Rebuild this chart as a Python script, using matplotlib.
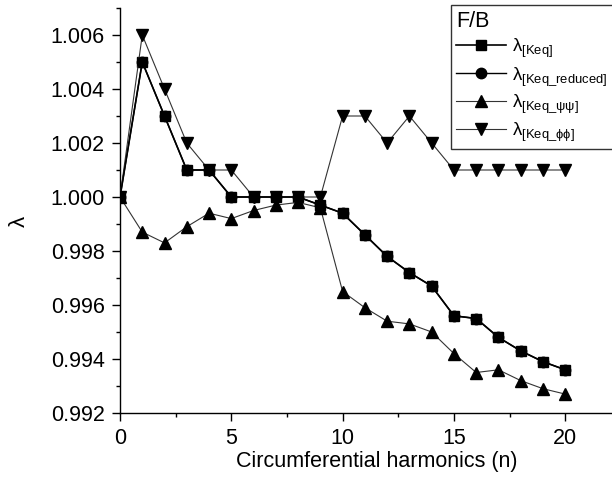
import matplotlib
matplotlib.use("Agg")
import matplotlib.pyplot as plt
from matplotlib.ticker import MultipleLocator, FormatStrFormatter

plt.rcParams['font.family'] = ['Liberation Sans', 'DejaVu Sans']
plt.rcParams['mathtext.fontset'] = 'custom'
plt.rcParams['mathtext.rm'] = 'Liberation Sans'
plt.rcParams['mathtext.it'] = 'Liberation Sans:italic'
plt.rcParams['mathtext.default'] = 'rm'

n = list(range(21))
keq = [1.000, 1.005, 1.003, 1.001, 1.001, 1.000, 1.000, 1.000, 1.000, 0.9997,
       0.9994, 0.9986, 0.9978, 0.9972, 0.9967, 0.9956, 0.9955, 0.9948, 0.9943, 0.9939, 0.9936]
keq_reduced = [1.000, 1.005, 1.003, 1.001, 1.001, 1.000, 1.000, 1.000, 1.000, 0.9997,
               0.9994, 0.9986, 0.9978, 0.9972, 0.9967, 0.9956, 0.9955, 0.9948, 0.9943, 0.9939, 0.9936]
keq_psipsi = [1.000, 0.9987, 0.9983, 0.9989, 0.9994, 0.9992, 0.9995, 0.9997, 0.9998, 0.9996,
              0.9965, 0.9959, 0.9954, 0.9953, 0.9950, 0.9942, 0.9935, 0.9936, 0.9932, 0.9929, 0.9927]
keq_phiphi = [1.000, 1.006, 1.004, 1.002, 1.001, 1.001, 1.000, 1.000, 1.000, 1.000,
              1.003, 1.003, 1.002, 1.003, 1.002, 1.001, 1.001, 1.001, 1.001, 1.001, 1.001]

labels = [r'$\lambda_{[\mathrm{Keq}]}$', r'$\lambda_{[\mathrm{Keq\_reduced}]}$',
          r'$\lambda_{[\mathrm{Keq\_}\psi\psi]}$', r'$\lambda_{[\mathrm{Keq\_}\phi\phi]}$']

fig = plt.figure(figsize=(6.12, 4.82), dpi=100)
ax = fig.add_axes([120/612, 1-413/482, 1-120/612, (413-8)/482])

ax.plot(n, keq, color='black', lw=1.2, marker='s', ms=7, label=labels[0], zorder=3)
ax.plot(n, keq_reduced, color='black', lw=1.0, marker='o', ms=7.5, label=labels[1], zorder=4)
ax.plot(n, keq_psipsi, color='#333333', lw=0.8, marker='^', ms=8, mfc='black', mec='black', label=labels[2], zorder=3)
ax.plot(n, keq_phiphi, color='#333333', lw=0.8, marker='v', ms=8, mfc='black', mec='black', label=labels[3], zorder=3)

ax.set_xlim(0, 22.1)
ax.set_ylim(0.992, 1.007)
ax.xaxis.set_major_locator(MultipleLocator(5))
ax.xaxis.set_minor_locator(MultipleLocator(2.5))
ax.yaxis.set_major_locator(MultipleLocator(0.002))
ax.yaxis.set_minor_locator(MultipleLocator(0.001))
ax.yaxis.set_major_formatter(FormatStrFormatter('%.3f'))

for s in ['top', 'right']:
    ax.spines[s].set_visible(False)
for s in ['left', 'bottom']:
    ax.spines[s].set_linewidth(1.0)

ax.tick_params(axis='both', which='major', direction='out', length=6, width=1.0, labelsize=15.5, pad=5)
ax.tick_params(axis='both', which='minor', direction='out', length=3, width=1.0)

ax.set_xlabel('Circumferential harmonics (n)', fontsize=15.5)
ax.xaxis.set_label_coords((377 - 120) / 492, (413 - 451) / 405)
ax.xaxis.label.set_va('top')
ax.set_ylabel(r'$\lambda$', fontsize=16)
ax.yaxis.set_label_coords((30 - 120) / 492, (413 - 222) / 405)

leg = ax.legend(title='F/B', loc='upper right', bbox_to_anchor=(613 / 612, 1 - 5 / 482),
                bbox_transform=fig.transFigure, frameon=True, fancybox=False,
                edgecolor='black', fontsize=13.4, title_fontsize=15.5,
                handlelength=2.7, handletextpad=0.3, labelspacing=0.28,
                borderpad=0.3, borderaxespad=0, alignment='left')
leg.get_frame().set_linewidth(1.0)

fig.savefig('out.png', dpi=100)
